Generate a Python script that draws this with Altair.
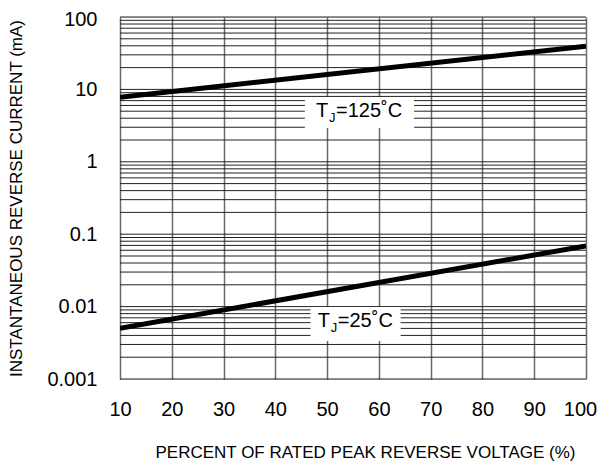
import altair as alt
import pandas as pd

# Data
pct = [10, 100]
i_125 = [7.8, 39.5]
i_25 = [0.0050, 0.069]

x_ticks = [10, 20, 30, 40, 50, 60, 70, 80, 90, 100]
y_ticks = [0.001, 0.01, 0.1, 1, 10, 100]
grid_mult = [1, 2, 3, 4, 5, 6, 7, 8, 9]

# label annotations (data coordinates)
lab_main = ["=125˚C", "=25˚C"]
lab_x = [47.85, 48.2]
lab_y = [4.16, 0.00523]
box_x = [45.7, 46.8]
box_x2 = [66.8, 64.2]
box_y = [7.85, 0.0099]
box_y2 = [2.93, 0.00335]

FONT = "Liberation Sans"

lines = pd.DataFrame(
    {"pct": pct * 2, "cur": i_125 + i_25, "s": ["125"] * 2 + ["25"] * 2}
)
hgrid = pd.DataFrame(
    {"v": [m * d for d in y_ticks[:-1] for m in grid_mult] + [y_ticks[-1]]}
)
labels = pd.DataFrame(
    {"main": lab_main, "x": lab_x, "y": lab_y,
     "bx": box_x, "bx2": box_x2, "by": box_y, "by2": box_y2}
)

xs = alt.Scale(domain=[10, 100], nice=False, zero=False)
ys = alt.Scale(type="log", domain=[0.001, 100], nice=False)

xax = alt.Axis(
    values=x_ticks, grid=True, gridColor="#6a6a6a", gridWidth=1.5,
    ticks=False, domain=False, labelFont=FONT, labelFontSize=20,
    labelColor="#000", labelPadding=20, labelFlush=False, labelOverlap=False,
    labelOffset={"condition": {"test": "datum.value == 100", "value": -6}, "value": 0},
    title="PERCENT OF RATED PEAK REVERSE VOLTAGE (%)",
    titleFont=FONT, titleFontSize=17, titleFontWeight="normal",
    titleColor="#000", titleX=245, titleY=73, titleBaseline="middle",
    titleAlign="center", titleAnchor="middle",
)
yax = alt.Axis(
    values=y_ticks, grid=False, ticks=False, domain=False,
    labelExpr="toString(datum.value)", labelFlush=False, labelOverlap=False,
    labelOffset={"condition": {"test": "datum.value == 100", "value": 2}, "value": 0},
    labelFont=FONT, labelFontSize=20, labelColor="#000", labelPadding=23,
    title="INSTANTANEOUS REVERSE CURRENT (mA)",
    titleFont=FONT, titleFontSize=17, titleFontWeight="normal",
    titleColor="#000", titleX=-104, titleY=181, titleAngle=270,
    titleBaseline="middle", titleAlign="center",
)

grid = alt.Chart(hgrid).mark_rule(color="#222", strokeWidth=1).encode(
    y=alt.Y("v:Q", scale=ys, axis=yax)
)
curves = alt.Chart(lines).mark_line(color="#000", strokeWidth=5, clip=True).encode(
    x=alt.X("pct:Q", scale=xs, axis=xax),
    y=alt.Y("cur:Q", scale=ys),
    detail="s:N",
)
boxes = alt.Chart(labels).mark_rect(color="white").encode(
    x=alt.X("bx:Q", scale=xs), x2="bx2:Q",
    y=alt.Y("by:Q", scale=ys), y2="by2:Q",
)
t1 = alt.Chart(labels).mark_text(
    text="T", align="left", baseline="alphabetic", font=FONT, fontSize=20, color="#000"
).encode(x=alt.X("x:Q", scale=xs), y=alt.Y("y:Q", scale=ys))
t2 = alt.Chart(labels).mark_text(
    text="J", align="left", baseline="alphabetic", font=FONT, fontSize=13,
    color="#000", dx=13, dy=5
).encode(x=alt.X("x:Q", scale=xs), y=alt.Y("y:Q", scale=ys))
t3 = alt.Chart(labels).mark_text(
    align="left", baseline="alphabetic", font=FONT, fontSize=20, color="#000", dx=20
).encode(x=alt.X("x:Q", scale=xs), y=alt.Y("y:Q", scale=ys), text="main:N")

chart = alt.layer(grid, curves, boxes, t1, t2, t3).properties(
    width=466, height=362,
    autosize=alt.AutoSizeParams(type="none"),
    padding={"left": 112, "top": 9, "right": 11, "bottom": 82},
).configure_view(stroke="#000", strokeWidth=2).configure(background="white")

chart.save("out.html", embed_options={"renderer": "svg", "actions": False})
